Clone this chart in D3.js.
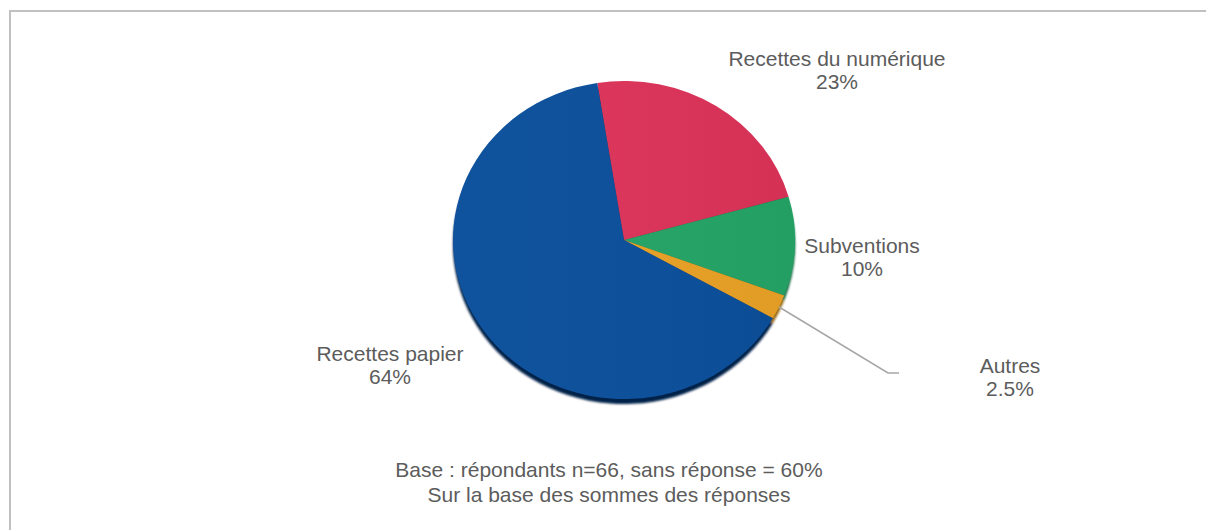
<!DOCTYPE html>
<html>
<head>
<meta charset="utf-8">
<script src="https://cdn.jsdelivr.net/npm/d3@7"></script>
<style>
    body { margin: 0; background: #fff; }
    svg text { font-family: "Liberation Sans", Arial, sans-serif; fill: #5c5c5c; }
</style>
</head>
<body>
<script>
{
    // slices in clockwise order, starting a bit left of 12 o'clock
    const names = [ "Recettes du numérique", "Subventions", "Autres", "Recettes papier"];
    const values = [ 23, 10, 2.5, 64];
    const labels = [ "23%", "10%", "2.5%", "64%"];
    const colors = [ "#dd3359", "#25a567", "#eaa226", "#0b4f9b"];
    const darks = [ "#8c1a33", "#126b40", "#9a6a12", "#02214a"];
    const notes = [ "Base : répondants n=66, sans réponse = 60%", "Sur la base des sommes des réponses"];

    // label layout (Excel "best fit" places these by hand)
    const labelPos = [ [837, 66], [862, 253], [1010, 373], [390, 361]];

    const width = 1206, height = 530;
    const cx = 624, cy = 240, rx = 171, ry = 159;

    const svg = d3.select("body").append("svg")
        .attr("width", width)
        .attr("height", height);

    const defs = svg.append("defs");
    defs.append("filter").attr("id", "soft")
        .append("feGaussianBlur").attr("stdDeviation", 1);

    const shade = defs.append("linearGradient")
        .attr("id", "shade")
        .attr("x1", "0").attr("x2", "1").attr("y1", "0").attr("y2", "0");
    shade.append("stop").attr("offset", "0").attr("stop-color", "#fff").attr("stop-opacity", 0.02);
    shade.append("stop").attr("offset", "1").attr("stop-color", "#000").attr("stop-opacity", 0.04);

    // frame (top and left only)
    svg.append("path")
        .attr("d", "M10," + height + "V11H" + width)
        .attr("fill", "none")
        .attr("stroke", "#c0c0c0")
        .attr("stroke-width", 2);

    const pie = d3.pie()
        .sort(null)
        .startAngle(-9 * Math.PI / 180)
        .endAngle(351 * Math.PI / 180);
    const arcs = pie(values);

    const arc = d3.arc().innerRadius(0).outerRadius(rx);
    const edge = d3.arc().innerRadius(rx).outerRadius(rx);

    // depth / shadow under the pie
    svg.append("g")
        .attr("transform", "translate(" + cx + "," + (cy + 5) + ") scale(1," + (ry / rx) + ")")
        .attr("filter", "url(#soft)")
        .selectAll("path")
        .data(arcs)
        .join("path")
        .attr("d", arc)
        .attr("fill", (d, i) => darks[i]);

    const face = svg.append("g")
        .attr("transform", "translate(" + cx + "," + cy + ") scale(1," + (ry / rx) + ")");

    face.selectAll("path.slice")
        .data(arcs)
        .join("path")
        .attr("class", "slice")
        .attr("d", arc)
        .attr("fill", (d, i) => colors[i]);

    face.append("ellipse")
        .attr("rx", rx).attr("ry", rx)
        .attr("fill", "url(#shade)");

    // leader line for the thin slice
    const k = 2;
    const p = edge.centroid(arcs[k]);
    const x0 = cx + p[0], y0 = cy + p[1] * ry / rx;
    const lx = labelPos[k][0] - 122, ly = labelPos[k][1];
    svg.append("polyline")
        .attr("points", [[x0, y0], [lx, ly], [lx + 11, ly]].map(q => q.join(",")).join(" "))
        .attr("fill", "none")
        .attr("stroke", "#a6a6a6")
        .attr("stroke-width", 1.5);

    // data labels
    const lab = svg.append("g")
        .selectAll("text")
        .data(arcs)
        .join("text")
        .attr("text-anchor", "middle")
        .attr("font-size", 21)
        .attr("x", (d, i) => labelPos[i][0])
        .attr("y", (d, i) => labelPos[i][1]);
    lab.append("tspan").text((d, i) => names[i]);
    lab.append("tspan")
        .attr("x", (d, i) => labelPos[i][0])
        .attr("dy", 23.3)
        .text((d, i) => labels[i]);

    // notes under the chart
    svg.append("g")
        .selectAll("text")
        .data(notes)
        .join("text")
        .attr("text-anchor", "middle")
        .attr("font-size", 21)
        .attr("x", 609)
        .attr("y", (d, i) => 477 + i * 25)
        .text(d => d);
}
</script>
</body>
</html>
